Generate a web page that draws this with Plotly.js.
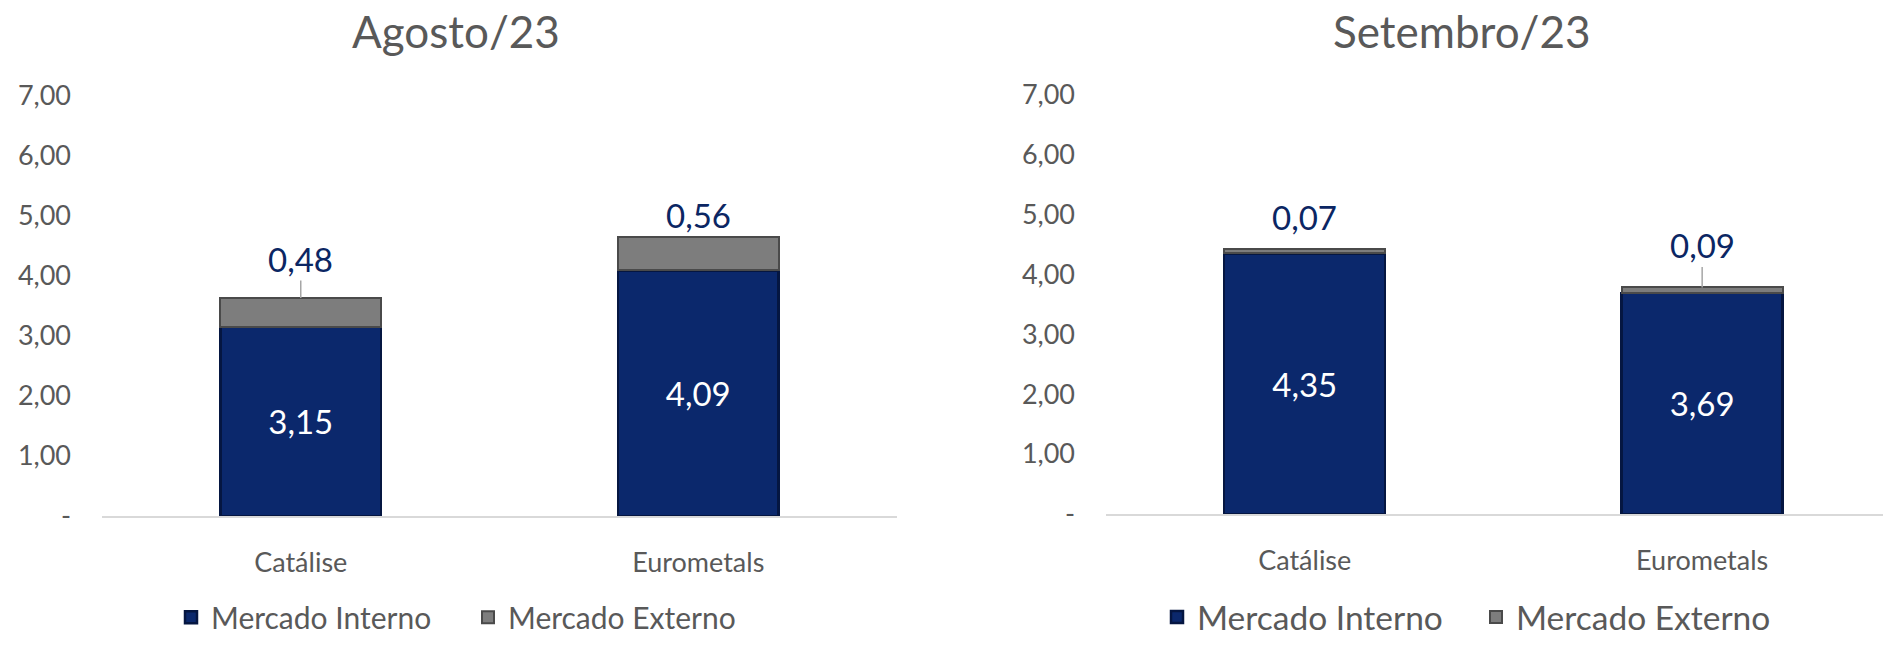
<!DOCTYPE html>
<html>
<head>
<meta charset="utf-8">
<script src="https://cdn.plot.ly/plotly-3.0.1.min.js"></script>
<style>html,body{margin:0;padding:0;background:#fff;}#chart{width:1883px;height:646px;}</style>
</head>
<body>
<div id="chart"></div>
<script>
// ---- data ----
const categories = ['Catálise', 'Eurometals'];
const augInterno = [3.15, 4.09];
const augExterno = [0.48, 0.56];
const sepInterno = [4.35, 3.69];
const sepExterno = [0.07, 0.09];
const panelTitles = ['Agosto/23', 'Setembro/23'];
const seriesNames = ['Mercado Interno', 'Mercado Externo'];
const yTickVals = [0, 1, 2, 3, 4, 5, 6, 7];
const yTickText = ['-', '1,00', '2,00', '3,00', '4,00', '5,00', '6,00', '7,00'];

// ---- styles ----
const FONT = 'Lato, "Open Sans", sans-serif';
const GREY = '#595959';
const NAVY = '#0b286c';
const NAVY_EDGE = '#051641';
const EXT = '#7d7d7d';
const EXT_EDGE = '#4a4a4a';
const LABEL_NAVY = '#0b2663';
// label offsets (px above stack top) and leader-line flags, per panel
const labelOffsets = [[39, 22], [32, 42]];
const leaderLines = [[true, false], [false, true]];

function fmt(v) { return v.toFixed(2).replace('.', ','); }

const panels = [
  {interno: augInterno, externo: augExterno, xa: 'x', ya: 'y', legend: 'legend'},
  {interno: sepInterno, externo: sepExterno, xa: 'x2', ya: 'y2', legend: 'legend2'}
];

const traces = [];
const annotations = [];
panels.forEach((p, k) => {
  traces.push({
    type: 'bar', x: categories, y: p.interno, name: seriesNames[0],
    xaxis: p.xa, yaxis: p.ya, legend: p.legend, width: 0.405,
    marker: {color: NAVY, line: {color: NAVY_EDGE, width: 2.5}},
    texttemplate: '%{y:.2f}', textposition: 'inside', insidetextanchor: 'middle',
    textangle: 0, constraintext: 'none',
    textfont: {family: FONT, size: 33, color: '#ffffff'},
    hoverinfo: 'x+y+name'
  });
  traces.push({
    type: 'bar', x: categories, y: p.externo, name: seriesNames[1],
    xaxis: p.xa, yaxis: p.ya, legend: p.legend, width: 0.405,
    marker: {color: EXT, line: {color: EXT_EDGE, width: 2}},
    textposition: 'none', hoverinfo: 'x+y+name'
  });
  categories.forEach((c, i) => {
    const top = p.interno[i] + p.externo[i];
    const off = labelOffsets[k][i];
    const a = {
      x: c, y: top, xref: p.xa, yref: p.ya, text: fmt(p.externo[i]),
      font: {family: FONT, size: 33, color: LABEL_NAVY}
    };
    if (leaderLines[k][i]) {
      Object.assign(a, {showarrow: true, arrowhead: 0, arrowwidth: 1.5,
        arrowcolor: '#a6a6a6', ax: 0, ay: -off, standoff: 0});
    } else {
      Object.assign(a, {showarrow: false, yanchor: 'middle', yshift: off});
    }
    annotations.push(a);
  });
});

// panel titles
const titleX = [456 / 1883, 1462 / 1883];
panelTitles.forEach((t, k) => {
  annotations.push({
    text: t, xref: 'paper', yref: 'paper', x: titleX[k], y: (646 - 32) / 646,
    xanchor: 'center', yanchor: 'middle', showarrow: false,
    font: {family: FONT, size: 44, color: GREY}
  });
});

const xBase = {
  type: 'category', showline: true, linecolor: '#d9d9d9', linewidth: 2,
  showgrid: false, zeroline: false, ticks: '', ticklabelstandoff: 22,
  tickfont: {family: FONT, size: 27, color: GREY}, fixedrange: true
};
const yBase = {
  range: [0, 7], tickmode: 'array', tickvals: yTickVals, ticktext: yTickText,
  showline: false, showgrid: false, zeroline: false, ticks: '',
  ticklabelstandoff: 30,
  tickfont: {family: FONT, size: 27, color: GREY}, fixedrange: true
};

const layout = {
  width: 1883, height: 646,
  margin: {l: 0, r: 0, t: 0, b: 0},
  paper_bgcolor: '#ffffff', plot_bgcolor: '#ffffff',
  barmode: 'stack', separators: ',.',
  font: {family: FONT, color: GREY},
  xaxis: Object.assign({}, xBase, {domain: [102 / 1883, 897 / 1883], range: [-0.5, 1.5], anchor: 'y'}),
  yaxis: Object.assign({}, yBase, {domain: [117 / 646, 548 / 646], anchor: 'x'}),
  xaxis2: Object.assign({}, xBase, {domain: [1106 / 1883, 1], range: [-0.5, 1.455], anchor: 'y2'}),
  yaxis2: Object.assign({}, yBase, {domain: [119 / 646, 549 / 646], anchor: 'x2'}),
  legend: {
    orientation: 'h', x: 468 / 1883, xanchor: 'center', y: 13 / 646, yanchor: 'middle',
    font: {family: FONT, size: 30, color: GREY}, traceorder: 'normal',
    entrywidth: 252, entrywidthmode: 'pixels', bgcolor: 'rgba(0,0,0,0)'
  },
  legend2: {
    orientation: 'h', x: 1476 / 1883, xanchor: 'center', y: 13 / 646, yanchor: 'middle',
    font: {family: FONT, size: 33.5, color: GREY}, traceorder: 'normal',
    entrywidth: 274, entrywidthmode: 'pixels', bgcolor: 'rgba(0,0,0,0)'
  },
  annotations: annotations,
  showlegend: true
};

Plotly.newPlot('chart', traces, layout, {displayModeBar: false, staticPlot: true});
</script>
</body>
</html>
